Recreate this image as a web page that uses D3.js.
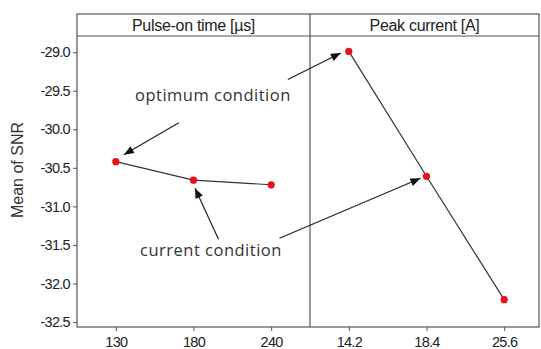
<!DOCTYPE html>
<html>
<head>
<meta charset="utf-8">
<script src="https://cdn.jsdelivr.net/npm/d3@7"></script>
<style>
  body { margin: 0; background: #fff; }
  .tick text { font-family: "Liberation Sans", Arial, sans-serif; font-size: 14.5px; letter-spacing: -0.7px; fill: #222; }
  .note { font-family: "Open Sans", "Noto Sans", sans-serif; font-size: 16.5px; letter-spacing: 0.5px; fill: #333; }
</style>
</head>
<body>
<div id="chart"></div>
<script>
// factor levels and mean SNR per level
var pulseLevels = ["130", "180", "240"];
var pulseSNR = [-30.42, -30.66, -30.72];
var peakLevels = ["14.2", "18.4", "25.6"];
var peakSNR = [-28.99, -30.61, -32.21];
var panelTitles = ["Pulse-on time [\u00b5s]", "Peak current [A]"];
var yTicks = [-29.0, -29.5, -30.0, -30.5, -31.0, -31.5, -32.0, -32.5];

var W = 541, H = 349;
var mLeft = 77, mTop = 14, headH = 22, mBottom = 327, mRight = 539, panelW = 233;

var svg = d3.select("#chart").append("svg")
    .attr("width", W).attr("height", H);

var defs = svg.append("defs");
defs.append("marker")
    .attr("id", "arr")
    .attr("markerUnits", "userSpaceOnUse")
    .attr("viewBox", "0 0 10 8")
    .attr("refX", 10).attr("refY", 4)
    .attr("markerWidth", 11).attr("markerHeight", 8)
    .attr("orient", "auto")
    .append("path")
    .attr("d", "M0,0 L10,4 L0,8 Z")
    .attr("fill", "#111");

var y = d3.scaleLinear()
    .domain([-32.565, -28.79])
    .range([mBottom, mTop + headH]);

var panels = [
    {levels: pulseLevels, values: pulseSNR, title: panelTitles[0]},
    {levels: peakLevels, values: peakSNR, title: panelTitles[1]}
];
panels.forEach(function (p, i) {
    var x0 = mLeft + i * panelW;
    p.x = d3.scalePoint().domain(p.levels).range([x0, x0 + panelW]).padding(0.5);
    p.x0 = x0;
});

// frame + header strip
var frameC = "#555";
svg.append("rect")
    .attr("x", mLeft).attr("y", mTop)
    .attr("width", mRight - mLeft).attr("height", mBottom - mTop)
    .attr("fill", "none").attr("stroke", frameC).attr("stroke-width", 1.2);
svg.append("line")
    .attr("x1", mLeft).attr("x2", mRight)
    .attr("y1", mTop + headH).attr("y2", mTop + headH)
    .attr("stroke", frameC).attr("stroke-width", 1.2);
svg.append("line")
    .attr("x1", mLeft + panelW).attr("x2", mLeft + panelW)
    .attr("y1", mTop).attr("y2", mBottom)
    .attr("stroke", frameC).attr("stroke-width", 1.2);

panels.forEach(function (p, i) {
    var xEnd = Math.min(p.x0 + panelW, mRight);
    svg.append("text")
        .attr("x", (p.x0 + xEnd) / 2)
        .attr("y", mTop + headH / 2 + 6)
        .attr("text-anchor", "middle")
        .style("font-family", "Liberation Sans, Arial, sans-serif")
        .style("font-size", "16px")
        .style("letter-spacing", "-0.3px")
        .attr("fill", "#222")
        .text(p.title);
});

// y axis
var yAxis = svg.append("g")
    .attr("transform", "translate(" + mLeft + ",0)")
    .call(d3.axisLeft(y).tickValues(yTicks).tickFormat(d3.format(".1f")).tickSize(4).tickPadding(3));
yAxis.select(".domain").remove();
yAxis.selectAll(".tick line").attr("stroke", frameC);
yAxis.selectAll(".tick text").text(function (d) { return d3.format(".1f")(d).replace("\u2212", "-"); });

// x axes
panels.forEach(function (p) {
    var g = svg.append("g")
        .attr("transform", "translate(0," + mBottom + ")")
        .call(d3.axisBottom(p.x).tickSize(4).tickPadding(4));
    g.select(".domain").remove();
    g.selectAll(".tick line").attr("stroke", frameC);
    g.selectAll(".tick text").attr("dy", "0.85em");
});

// y label
svg.append("text")
    .attr("transform", "translate(23,170) rotate(-90)")
    .attr("text-anchor", "middle")
    .style("font-family", "Liberation Sans, Arial, sans-serif")
    .style("font-size", "16px")
    .attr("fill", "#333")
    .text("Mean of SNR");

// lines and points
var line = d3.line();
panels.forEach(function (p) {
    var pts = p.levels.map(function (l, j) { return [p.x(l), y(p.values[j])]; });
    svg.append("path")
        .attr("d", line(pts))
        .attr("fill", "none")
        .attr("stroke", "#333")
        .attr("stroke-width", 1.2);
    svg.selectAll(null).data(pts).enter().append("circle")
        .attr("cx", function (d) { return d[0]; })
        .attr("cy", function (d) { return d[1]; })
        .attr("r", 3.6)
        .attr("fill", "#e8101a");
});

// annotations: arrow tails are relative to the point they point at
function arrow(p, idx, tail, tipOff) {
    var px = p.x(p.levels[idx]), py = y(p.values[idx]);
    svg.append("line")
        .attr("x1", px + tail[0]).attr("y1", py + tail[1])
        .attr("x2", px + tipOff[0]).attr("y2", py + tipOff[1])
        .attr("stroke", "#222").attr("stroke-width", 1.2)
        .attr("marker-end", "url(#arr)");
}
arrow(panels[1], 0, [-61, 28], [-8, 1.5]);
arrow(panels[0], 0, [63, -39], [8, -7]);
arrow(panels[0], 1, [25, 59], [1.5, 8]);
arrow(panels[1], 1, [-147, 62], [-6, 2]);

svg.append("text").attr("class", "note")
    .attr("x", 135).attr("y", 101)
    .text("optimum condition");
svg.append("text").attr("class", "note")
    .attr("x", 140).attr("y", 256)
    .text("current condition");
</script>
</body>
</html>
